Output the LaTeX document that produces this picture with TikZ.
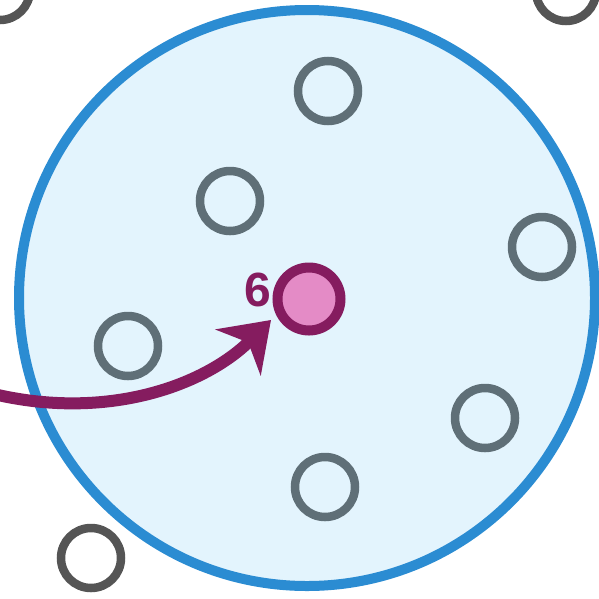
\documentclass[tikz,border=0pt]{standalone}
\usepackage{fontspec}
\setmainfont{Liberation Sans}
\usetikzlibrary{arrows.meta}
\definecolor{bigblue}{HTML}{2B8CD2}
\definecolor{bigfill}{HTML}{E3F4FD}
\definecolor{ringin}{HTML}{5F6F77}
\definecolor{ringout}{HTML}{555555}
\definecolor{plum}{HTML}{851C5F}
\definecolor{pinkfill}{HTML}{E48BC6}
\tikzset{
  ringa/.style={circle, draw=ringin, line width=8.5pt, minimum size=60pt, inner sep=0pt},
  ringb/.style={circle, draw=ringout, fill=white, line width=8.5pt, minimum size=60pt, inner sep=0pt},
  hub/.style={circle, draw=plum, fill=pinkfill, line width=10pt, minimum size=63pt, inner sep=0pt},
  bigdisc/.style={circle, draw=bigblue, fill=bigfill, line width=10pt, minimum size=576pt, inner sep=0pt},
  arr/.style={draw=plum, line width=12pt, -{Stealth[length=46pt, width=64pt, inset=14pt]}}
}
\begin{document}
\begin{tikzpicture}[x=1pt, y=-1pt]
\useasboundingbox (0,0) rectangle (599,598);
\node[ringb] (tl) at (0,-10) {};
\node[ringb] (tr) at (566,-9) {};
\node[ringb] (bl) at (91,558) {};
\node[bigdisc] (big) at (307,298) {};
\node[ringa] (c1) at (328,91) {};
\node[ringa] (c2) at (230,201) {};
\node[ringa] (c3) at (542,247) {};
\node[ringa] (c4) at (128,346) {};
\node[ringa] (c5) at (485,418) {};
\node[ringa] (c6) at (325,487) {};
\node[hub] (h) at (309,299) {};
\node[text=plum, font=\bfseries\fontsize{48}{48}\selectfont, anchor=east, inner sep=0pt] (lab) at (271,290) {6};
\coordinate (start) at (-2,395);
\coordinate (tip) at (271,320);
\draw[arr] (start) .. controls (110,420) and (205,385) .. (tip);
\end{tikzpicture}
\end{document}
